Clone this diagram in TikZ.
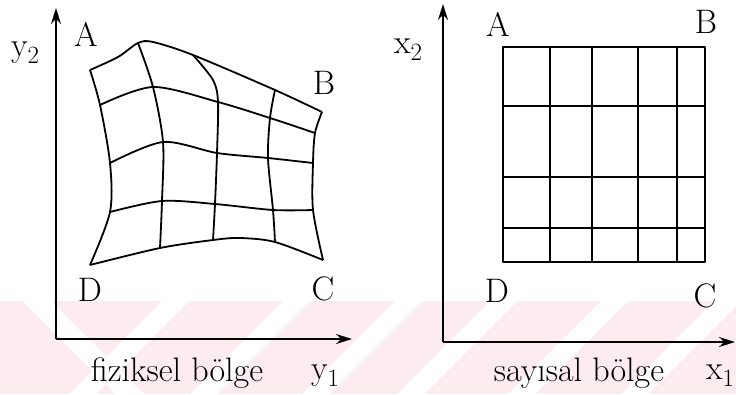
\documentclass[tikz,border=0pt]{standalone}
\usepackage{amsmath}
\usepackage{tikz}
\usetikzlibrary{arrows.meta}

\definecolor{wmpink}{RGB}{252,235,239}
\tikzset{
  axis/.style={line width=1.8pt,-{Stealth[length=16pt,width=10pt]}},
  mesh/.style={line width=1.8pt,line join=round},
  lbl/.style={font=\fontsize{34}{40}\selectfont,inner sep=0pt}
}

\begin{document}
\begin{tikzpicture}[x=1pt,y=-1pt]
  \useasboundingbox (0,0) rectangle (736,394);
  % watermark band
  \fill[wmpink] (0,301) rectangle (736,394);
  \fill[white] (23,301) -- (51,301) -- (144,394) -- (116,394) -- cycle;
  \foreach \s in {162,283,395,490,601,714}
    \fill[white] (\s,301) -- (\s+27,301) -- (\s-66,394) -- (\s-93,394) -- cycle;

  % physical region
  \coordinate (o1) at (56,339);
  \coordinate (y1tip) at (352,339);
  \coordinate (y2tip) at (56,8);
  \draw[axis] (o1) -- (y1tip);
  \draw[axis] (o1) -- (y2tip);

  \draw[mesh] plot[smooth,tension=0.5] coordinates {(90,70) (118,57) (138,43) (153,42) (193,55) (275,90) (322,112)};
  \draw[mesh] plot[smooth,tension=0.5] coordinates {(100,105) (153,87) (218,102) (270,118) (315,133)};
  \draw[mesh] plot[smooth,tension=0.5] coordinates {(110,163) (163,142) (217,153) (268,158) (313,163)};
  \draw[mesh] plot[smooth,tension=0.5] coordinates {(110,212) (162,201) (215,204) (273,210) (313,210)};
  \draw[mesh] plot[smooth,tension=0.5] coordinates {(90,265) (160,248) (213,240) (240,238) (275,242) (323,260)};
  \draw[mesh] plot[smooth,tension=0.5] coordinates {(90,70) (100,105) (110,163) (110,212) (90,265)};
  \draw[mesh] plot[smooth,tension=0.5] coordinates {(138,43) (153,87) (163,142) (162,201) (160,248)};
  \draw[mesh] plot[smooth,tension=0.5] coordinates {(193,55) (213,80) (218,102) (217,153) (215,204) (213,240)};
  \draw[mesh] plot[smooth,tension=0.5] coordinates {(275,90) (270,118) (268,158) (273,210) (275,242)};
  \draw[mesh] plot[smooth,tension=0.5] coordinates {(322,112) (315,133) (313,163) (313,210) (323,260)};

  \node[lbl,anchor=base west] (y2lbl) at (11,56) {y$_2$};
  \node[lbl] (pA) at (86,34) {A};
  \node[lbl] (pB) at (324,83) {B};
  \node[lbl] (pC) at (323,289) {C};
  \node[lbl] (pD) at (90,290) {D};
  \node[lbl,anchor=base] (ptitle) at (177,381) {fiziksel bölge};
  \node[lbl,anchor=base west] (y1lbl) at (311,379) {y$_1$};

  % computational region
  \coordinate (o2) at (443,342);
  \coordinate (x1tip) at (735,342);
  \coordinate (x2tip) at (443,4);
  \draw[axis] (o2) -- (x1tip);
  \draw[axis] (o2) -- (x2tip);

  \draw[mesh] (503,47) rectangle (705,262);
  \draw[mesh] (550,47) -- (550,262);
  \draw[mesh] (592,47) -- (592,262);
  \draw[mesh] (638,47) -- (638,262);
  \draw[mesh] (677,47) -- (677,262);
  \draw[mesh] (503,106) -- (705,106);
  \draw[mesh] (503,177) -- (705,177);
  \draw[mesh] (503,228) -- (705,228);

  \node[lbl,anchor=base west] (x2lbl) at (394,53) {x$_2$};
  \node[lbl] (sA) at (498,24) {A};
  \node[lbl] (sB) at (706,22) {B};
  \node[lbl] (sC) at (705,296) {C};
  \node[lbl] (sD) at (497,291) {D};
  \node[lbl,anchor=base] (stitle) at (579,381) {sayısal bölge};
  \node[lbl,anchor=base west] (x1lbl) at (706,379) {x$_1$};
\end{tikzpicture}
\end{document}
